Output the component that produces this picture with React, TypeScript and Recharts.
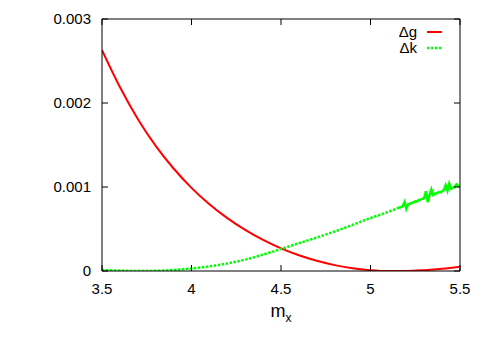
import { LineChart, Line, XAxis, YAxis, Legend, Label } from 'recharts'

// m_x grid used for the Δg curve
const mGrid = [3.5, 3.6, 3.7, 3.8, 3.9, 4.0, 4.1, 4.2, 4.3, 4.4, 4.5, 4.6, 4.7, 4.8, 4.9, 5.0, 5.1, 5.2, 5.3, 5.4, 5.5]
const gVals = [
  0.00263, 0.00219, 0.00181, 0.00149, 0.00122, 0.00099, 0.000795, 0.00063, 0.00049, 0.00037, 0.00027,
  0.000188, 0.000122, 0.00007, 0.000032, 0.00001, 0.0, 0.0, 0.00001, 0.000027, 0.000052,
]

// Δk, smooth part (dashed)
const kX = [3.5, 3.6, 3.7, 3.8, 3.9, 4.0, 4.1, 4.2, 4.3, 4.4, 4.5, 4.6, 4.7, 4.8, 4.9, 5.0, 5.1, 5.15]
const kVals = [
  0.000012, 0.000004, 0.0, 0.000002, 0.000012, 0.00003, 0.000055, 0.00009, 0.000135, 0.000195, 0.000262,
  0.00033, 0.0004, 0.00047, 0.00055, 0.00063, 0.000705, 0.000745,
]

// Δk, noisy tail above 5.15
const kNoiseX = [
  5.15, 5.16, 5.17, 5.18, 5.19, 5.2, 5.21, 5.22, 5.23, 5.24, 5.25, 5.26, 5.27, 5.28, 5.29, 5.3, 5.31, 5.32,
  5.33, 5.34, 5.35, 5.36, 5.37, 5.38, 5.39, 5.4, 5.41, 5.42, 5.43, 5.44, 5.45, 5.46, 5.47, 5.48, 5.49, 5.5,
]
const kNoiseVals = [
  0.000745, 0.000756, 0.000758, 0.000772, 0.00082, 0.00074, 0.000795, 0.0008, 0.000812, 0.000815, 0.00083,
  0.000828, 0.000845, 0.00085, 0.00086, 0.00087, 0.00095, 0.00082, 0.0009, 0.00097, 0.000905, 0.00092,
  0.000925, 0.00094, 0.000935, 0.00095, 0.000965, 0.00102, 0.000955, 0.00104, 0.00098, 0.00099, 0.001,
  0.00103, 0.00101, 0.001015,
]

const xTicks = [3.5, 4, 4.5, 5, 5.5]
const yTicks = [0, 0.001, 0.002, 0.003]

const gData = mGrid.map((m, i) => ({ m, v: gVals[i] }))
const kData = kX.map((m, i) => ({ m, v: kVals[i] }))
const kNoiseData = kNoiseX.map((m, i) => ({ m, v: kNoiseVals[i] }))

const FONT = '"Liberation Sans", Arial, Helvetica, sans-serif'
const tickStyle = { fontSize: 15, fill: '#000', fontFamily: FONT }

function renderLegend(props: any) {
  const items = (props.payload || []).filter((e: any) => e.type !== 'none')
  return (
    <div style={{ fontFamily: FONT, fontSize: 15, color: '#000' }}>
      {items.map((entry: any, i: number) => (
        <div key={i} style={{ display: 'flex', alignItems: 'center', height: 16, lineHeight: '16px' }}>
          <span style={{ width: 37, textAlign: 'right' }}>{entry.value}</span>
          <svg width={25} height={16} style={{ display: 'block' }}>
            <line
              x1={10}
              x2={25}
              y1={8}
              y2={8}
              stroke={entry.color}
              strokeWidth={i === 0 ? 2 : 2.5}
              strokeDasharray={i === 0 ? undefined : '2.5 1.5'}
            />
          </svg>
        </div>
      ))}
    </div>
  )
}

function AxisName(props: any) {
  const vb = props.viewBox
  return (
    <text x={vb.x + vb.width / 2} y={vb.y + 46} textAnchor="middle" fontFamily={FONT} fontSize={18} fill="#000">
      m
      <tspan fontSize={12} dy={5}>x</tspan>
    </text>
  )
}

export default function App() {
  return (
    <div style={{ position: 'absolute', left: 0, top: 0, width: 485, height: 340, background: '#fff' }}>
      <LineChart width={485} height={340} margin={{ top: 0, right: 0, bottom: 0, left: 0 }}>
        <XAxis
          xAxisId="bottom"
          type="number"
          dataKey="m"
          domain={[3.5, 5.5]}
          allowDataOverflow
          ticks={xTicks}
          height={69}
          tickSize={-6}
          tickMargin={18}
          tick={tickStyle}
          axisLine={{ stroke: '#000' }}
          tickLine={{ stroke: '#000' }}
          tickFormatter={(v) => String(v)}
        >
          <Label content={<AxisName />} />
        </XAxis>
        <XAxis
          xAxisId="top"
          orientation="top"
          type="number"
          dataKey="m"
          domain={[3.5, 5.5]}
          allowDataOverflow
          ticks={xTicks}
          height={19}
          tickSize={-6}
          tick={tickStyle}
          axisLine={{ stroke: '#000' }}
          tickLine={{ stroke: '#000' }}
          tickFormatter={() => ''}
        />
        <YAxis
          yAxisId="left"
          type="number"
          domain={[0, 0.003]}
          allowDataOverflow
          ticks={yTicks}
          width={102}
          tickSize={-6}
          tickMargin={17}
          tick={tickStyle}
          axisLine={{ stroke: '#000' }}
          tickLine={{ stroke: '#000' }}
          tickFormatter={(v) => (v === 0 ? '0' : v.toFixed(3))}
        />
        <YAxis
          yAxisId="right"
          orientation="right"
          type="number"
          domain={[0, 0.003]}
          allowDataOverflow
          ticks={yTicks}
          width={25}
          tickSize={-6}
          tick={tickStyle}
          axisLine={{ stroke: '#000' }}
          tickLine={{ stroke: '#000' }}
          tickFormatter={() => ''}
        />
        <Legend
          layout="vertical"
          align="center"
          verticalAlign="middle"
          content={renderLegend}
          wrapperStyle={{ position: 'absolute', left: 380, top: 24, width: 70, height: 32 }}
        />
        <Line
          xAxisId="bottom"
          yAxisId="left"
          data={gData}
          dataKey="v"
          name="Δg"
          type="monotone"
          stroke="#ff0000"
          strokeWidth={2}
          dot={false}
          isAnimationActive={false}
        />
        <Line
          xAxisId="bottom"
          yAxisId="left"
          data={kData}
          dataKey="v"
          name="Δk"
          type="monotone"
          stroke="#00ff00"
          strokeWidth={2.5}
          strokeDasharray="2.5 1.5"
          dot={false}
          isAnimationActive={false}
        />
        <Line
          xAxisId="bottom"
          yAxisId="left"
          data={kNoiseData}
          dataKey="v"
          name="Δk noise"
          legendType="none"
          type="linear"
          stroke="#00ff00"
          strokeWidth={2.5}
          dot={false}
          isAnimationActive={false}
        />
      </LineChart>
    </div>
  )
}
